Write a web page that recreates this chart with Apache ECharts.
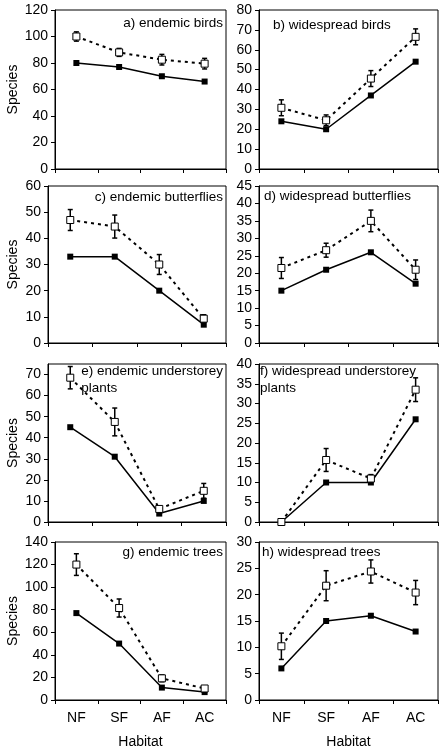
<!DOCTYPE html>
<html>
<head>
<meta charset="utf-8">
<script src="https://cdn.jsdelivr.net/npm/echarts@6/dist/echarts.min.js"></script>
<style>html,body{margin:0;padding:0;background:#fff;}#chart{width:443px;height:750px;}</style>
</head>
<body>
<div id="chart"></div>
<script>
// Categories
const habitats = ['NF', 'SF', 'AF', 'AC'];

// Panel titles
const titleA = 'a) endemic birds';
const titleB = 'b) widespread birds';
const titleC = 'c) endemic butterflies';
const titleD = 'd) widespread butterflies';
const titleE = 'e) endemic understorey\nplants';
const titleF = 'f) widespread understorey\nplants';
const titleG = 'g) endemic trees';
const titleH = 'h) widespread trees';

// Observed species (solid line, filled squares)
const obsA = [80, 77, 70, 66];
const obsB = [24, 20, 37, 54];
const obsC = [33, 33, 20, 7];
const obsD = [15, 21, 26, 17];
const obsE = [45, 31, 4, 10];
const obsF = [0, 10, 10, 26];
const obsG = [77, 50, 11, 7];
const obsH = [6, 15, 16, 13];

// Estimated species (dashed line, open squares)
const estA = [100, 88, 82.5, 79.5];
const estB = [30.8, 24.5, 45.5, 66.5];
const estC = [47, 44.5, 30, 9.3];
const estD = [21.5, 26.6, 35, 21];
const estE = [68.5, 47.5, 6.2, 14.8];
const estF = [0, 15.7, 11, 33.5];
const estG = [120, 81.5, 19.2, 10.2];
const estH = [10.2, 21.7, 24.4, 20.4];

// Error (± one SD) on estimates
const errA = [3.5, 3, 4, 4];
const errB = [4, 2.7, 4, 4];
const errC = [4, 4.4, 3.8, 1.5];
const errD = [3, 2, 3.1, 2.8];
const errE = [5.3, 6.6, 1, 3.5];
const errF = [0, 2.9, 1, 3];
const errG = [9.6, 8, 3, 1.5];
const errH = [2.5, 2.85, 2.2, 2.3];

// Y axis ranges (max, interval)
const yMaxes = [120, 80, 60, 45, 75, 40, 140, 30];
const yIntervals = [20, 10, 10, 5, 10, 5, 20, 5];

const panels = [
  {title: titleA, obs: obsA, est: estA, err: errA},
  {title: titleB, obs: obsB, est: estB, err: errB},
  {title: titleC, obs: obsC, est: estC, err: errC},
  {title: titleD, obs: obsD, est: estD, err: errD},
  {title: titleE, obs: obsE, est: estE, err: errE},
  {title: titleF, obs: obsF, est: estF, err: errF},
  {title: titleG, obs: obsG, est: estG, err: errG},
  {title: titleH, obs: obsH, est: estH, err: errH}
];

const FONT = 'Liberation Sans, Arial, sans-serif';
// per-panel plot-area geometry
const gridLeft = [55, 259, 48, 259, 48, 259, 55, 259];
const gridRight = [226, 438, 226, 438, 226, 438, 226, 438];
const rowTop = [10, 186, 364, 542];
const rowHeight = [159, 157, 158, 158];

const titlePos = [
  {right: 220, top: 15},
  {left: 273, top: 17},
  {right: 220, top: 189},
  {left: 264, top: 188},
  {right: 220, top: 363},
  {left: 260, top: 363},
  {right: 220, top: 544},
  {left: 262, top: 544}
];

const grids = [], xAxes = [], yAxes = [], series = [], titles = [];

panels.forEach((p, k) => {
  const col = k % 2, row = Math.floor(k / 2);
  const bottomRow = row === 3;
  grids.push({
    left: gridLeft[k], top: rowTop[row], width: gridRight[k] - gridLeft[k], height: rowHeight[row],
    show: true, borderColor: '#000', borderWidth: 1, backgroundColor: 'transparent', containLabel: false
  });
  xAxes.push({
    type: 'category', gridIndex: k, data: habitats, boundaryGap: true,
    axisLine: {show: true, lineStyle: {color: '#000', width: 1}},
    axisTick: {show: true, length: 4, inside: false, lineStyle: {color: '#000', width: 1}},
    axisLabel: {show: bottomRow, fontSize: 14, color: '#000', fontFamily: FONT, margin: 11},
    name: bottomRow ? 'Habitat' : '', nameLocation: 'middle', nameGap: 35,
    nameTextStyle: {fontSize: 14, color: '#000', fontFamily: FONT},
    splitLine: {show: false}
  });
  yAxes.push({
    type: 'value', gridIndex: k, min: 0, max: yMaxes[k], interval: yIntervals[k],
    axisLine: {show: true, lineStyle: {color: '#000', width: 1}},
    axisTick: {show: true, length: 4, inside: false, lineStyle: {color: '#000', width: 1}},
    axisLabel: {fontSize: 14, color: '#000', fontFamily: FONT, margin: 7,
      showMaxLabel: yMaxes[k] % yIntervals[k] === 0},
    splitLine: {show: false},
    name: col === 0 ? 'Species' : '', nameLocation: 'middle', nameGap: gridLeft[k] - 20,
    nameTextStyle: {fontSize: 14, color: '#000', fontFamily: FONT}
  });
  titles.push(Object.assign({
    text: p.title, padding: 0,
    textStyle: {fontSize: 13.5, fontWeight: 'normal', color: '#000', fontFamily: FONT, lineHeight: 17}
  }, titlePos[k]));

  // error bars
  series.push({
    type: 'custom', xAxisIndex: k, yAxisIndex: k, z: 2, silent: true,
    encode: {x: 0, y: 1},
    data: p.est.map((v, i) => [i, v, p.err[i]]).filter(d => d[2] > 0),
    renderItem: function (params, api) {
      const i = api.value(0), v = api.value(1), e = api.value(2);
      const t = api.coord([i, v + e]);
      const b = api.coord([i, v - e]);
      const w = 2.5;
      const st = {stroke: '#000', lineWidth: 1.5};
      return {type: 'group', children: [
        {type: 'line', shape: {x1: t[0], y1: t[1], x2: b[0], y2: b[1]}, style: st},
        {type: 'line', shape: {x1: t[0] - w, y1: t[1], x2: t[0] + w, y2: t[1]}, style: st},
        {type: 'line', shape: {x1: b[0] - w, y1: b[1], x2: b[0] + w, y2: b[1]}, style: st}
      ]};
    }
  });
  // observed
  series.push({
    type: 'line', xAxisIndex: k, yAxisIndex: k, z: 3, data: p.obs,
    symbol: 'rect', symbolSize: 6, showAllSymbol: true,
    itemStyle: {color: '#000'},
    lineStyle: {color: '#000', width: 1.5, type: 'solid'}
  });
  // estimated
  series.push({
    type: 'line', xAxisIndex: k, yAxisIndex: k, z: 4, data: p.est,
    symbol: 'rect', symbolSize: 7, showAllSymbol: true,
    itemStyle: {color: '#fff', borderColor: '#000', borderWidth: 1},
    lineStyle: {color: '#000', width: 2, type: [3, 4]}
  });
});

const chart = echarts.init(document.getElementById('chart'), null, {renderer: 'canvas'});
chart.setOption({
  animation: false,
  backgroundColor: '#fff',
  title: titles,
  grid: grids,
  xAxis: xAxes,
  yAxis: yAxes,
  series: series
});
</script>
</body>
</html>
